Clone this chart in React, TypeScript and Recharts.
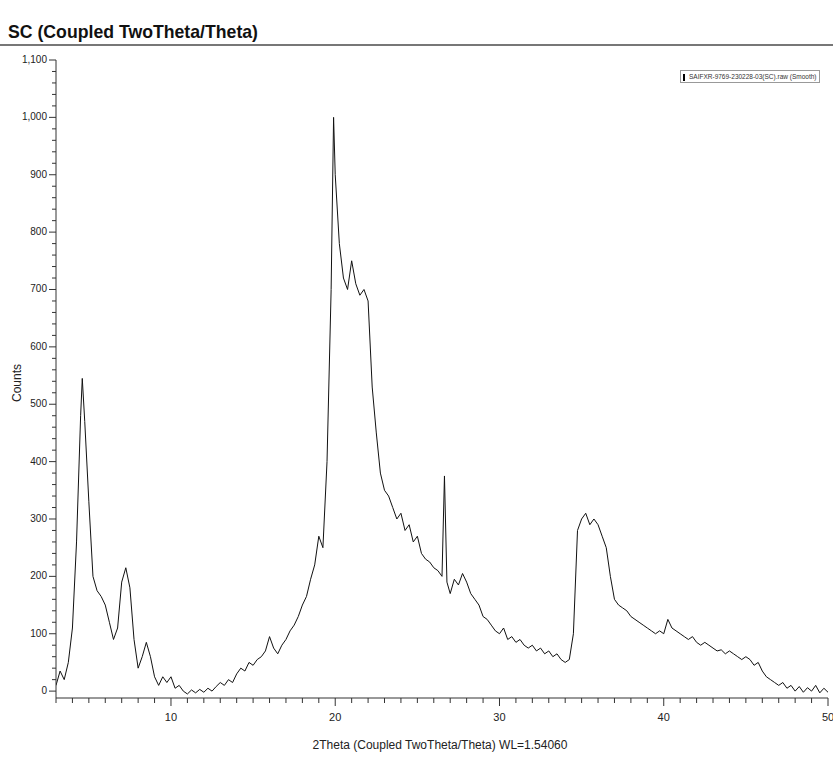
import React from "react";
import { LineChart, Line, XAxis, YAxis } from "recharts";

const twoTheta = [3.0,3.25,3.5,3.75,4.0,4.25,4.5,4.6,4.75,5.0,5.25,5.5,5.75,6.0,6.25,6.5,6.75,7.0,7.25,7.5,7.75,8.0,8.25,8.5,8.75,9.0,9.25,9.5,9.75,10.0,10.25,10.5,10.75,11.0,11.25,11.5,11.75,12.0,12.25,12.5,12.75,13.0,13.25,13.5,13.75,14.0,14.25,14.5,14.75,15.0,15.25,15.5,15.75,16.0,16.25,16.5,16.75,17.0,17.25,17.5,17.75,18.0,18.25,18.5,18.75,19.0,19.25,19.5,19.75,19.9,20.0,20.25,20.5,20.75,21.0,21.25,21.5,21.75,22.0,22.25,22.5,22.75,23.0,23.25,23.5,23.75,24.0,24.25,24.5,24.75,25.0,25.25,25.5,25.75,26.0,26.25,26.5,26.65,26.8,27.0,27.25,27.5,27.75,28.0,28.25,28.5,28.75,29.0,29.25,29.5,29.75,30.0,30.25,30.5,30.75,31.0,31.25,31.5,31.75,32.0,32.25,32.5,32.75,33.0,33.25,33.5,33.75,34.0,34.25,34.5,34.75,35.0,35.25,35.5,35.75,36.0,36.25,36.5,36.75,37.0,37.25,37.5,37.75,38.0,38.25,38.5,38.75,39.0,39.25,39.5,39.75,40.0,40.25,40.5,40.75,41.0,41.25,41.5,41.75,42.0,42.25,42.5,42.75,43.0,43.25,43.5,43.75,44.0,44.25,44.5,44.75,45.0,45.25,45.5,45.75,46.0,46.25,46.5,46.75,47.0,47.25,47.5,47.75,48.0,48.25,48.5,48.75,49.0,49.25,49.5,49.75,50.0];
const counts = [10,35,20,50,110,260,480,545,470,330,200,175,165,150,120,90,110,190,215,180,90,40,60,85,60,25,10,25,15,25,5,10,0,-5,2,-3,3,-2,5,0,8,15,10,20,15,30,40,35,50,45,55,60,70,95,75,65,80,90,105,115,130,150,165,195,220,270,250,400,700,1000,900,780,720,700,750,710,690,700,680,530,450,380,350,340,320,300,310,280,290,260,270,240,230,225,215,210,200,375,190,170,195,185,205,190,170,160,150,130,125,115,105,100,110,90,95,85,90,80,75,80,70,75,65,70,60,65,55,50,55,100,280,300,310,290,300,290,270,250,200,160,150,145,140,130,125,120,115,110,105,100,105,100,125,110,105,100,95,90,95,85,80,85,80,75,70,72,65,70,65,60,55,60,55,45,50,35,25,20,15,10,15,5,10,0,8,-2,6,0,10,-3,5,-2];
const xTicks = Array.from({ length: 48 }, (_, i) => 3 + i);
const yTicks = Array.from({ length: 56 }, (_, i) => i * 20);

const data = twoTheta.map((x, i) => ({ x, y: counts[i] }));
const font = "Liberation Sans, Arial, sans-serif";

const XTick = (p: any) => {
  const v = p.payload.value;
  const major = v % 10 === 0;
  return (
    <g>
      <line x1={p.x} x2={p.x} y1={p.y - 8} y2={p.y - 8 + (major ? 8 : 5)} stroke="#333" />
      {major && <text x={p.x} y={p.y + 15} textAnchor="middle" fontSize={11} fill="#222" fontFamily={font}>{v}</text>}
    </g>
  );
};
const YTick = (p: any) => {
  const v = p.payload.value;
  const major = v % 100 === 0;
  return (
    <g>
      <line x1={p.x + 8} x2={p.x + 8 - (major ? 7 : 4)} y1={p.y} y2={p.y} stroke="#333" />
      {major && <text x={p.x - 1} y={p.y + 3} textAnchor="end" fontSize={10} fill="#222" fontFamily={font}>{v.toLocaleString("en-US")}</text>}
    </g>
  );
};

export default function App() {
  return (
    <div style={{ position: "absolute", left: 0, top: 0, width: 833, height: 767, background: "#fff", fontFamily: font }}>
      <div style={{ position: "absolute", left: 8, top: 21, fontSize: 19, fontWeight: "bold", color: "#111", transform: "scaleX(0.93)", transformOrigin: "left" }}>SC (Coupled TwoTheta/Theta)</div>
      <div style={{ position: "absolute", left: 0, top: 44, width: 833, height: 2, background: "#777" }} />
      <div style={{ position: "absolute", left: 680, top: 70, border: "1px solid #999", fontSize: 6.5, color: "#333", whiteSpace: "nowrap", padding: "1px 2px", lineHeight: "9px" }}>
        <span style={{ display: "inline-block", width: 2, height: 7, background: "#000", marginRight: 4, verticalAlign: "middle" }} />SAIFXR-9769-230228-03(SC).raw (Smooth)
      </div>
      <div style={{ position: "absolute", left: 10, top: 402, fontSize: 12, color: "#222", transform: "rotate(-90deg)", transformOrigin: "left top" }}>Counts</div>
      <div style={{ position: "absolute", left: 0, width: 880, top: 738, textAlign: "center", fontSize: 12, color: "#222" }}>2Theta (Coupled TwoTheta/Theta) WL=1.54060</div>
      <LineChart width={833} height={767} data={data} margin={{ top: 60, right: 5, left: 0, bottom: 44 }}>
        <XAxis dataKey="x" type="number" domain={[3, 50]} ticks={xTicks} tick={<XTick />} tickLine={false} stroke="#333" height={25} interval={0} allowDataOverflow />
        <YAxis type="number" domain={[-12, 1100]} ticks={yTicks} tick={<YTick />} tickLine={false} stroke="#333" width={56} interval={0} allowDataOverflow />
        <Line dataKey="y" stroke="#111" strokeWidth={1} dot={false} isAnimationActive={false} type="linear" />
      </LineChart>
    </div>
  );
}
